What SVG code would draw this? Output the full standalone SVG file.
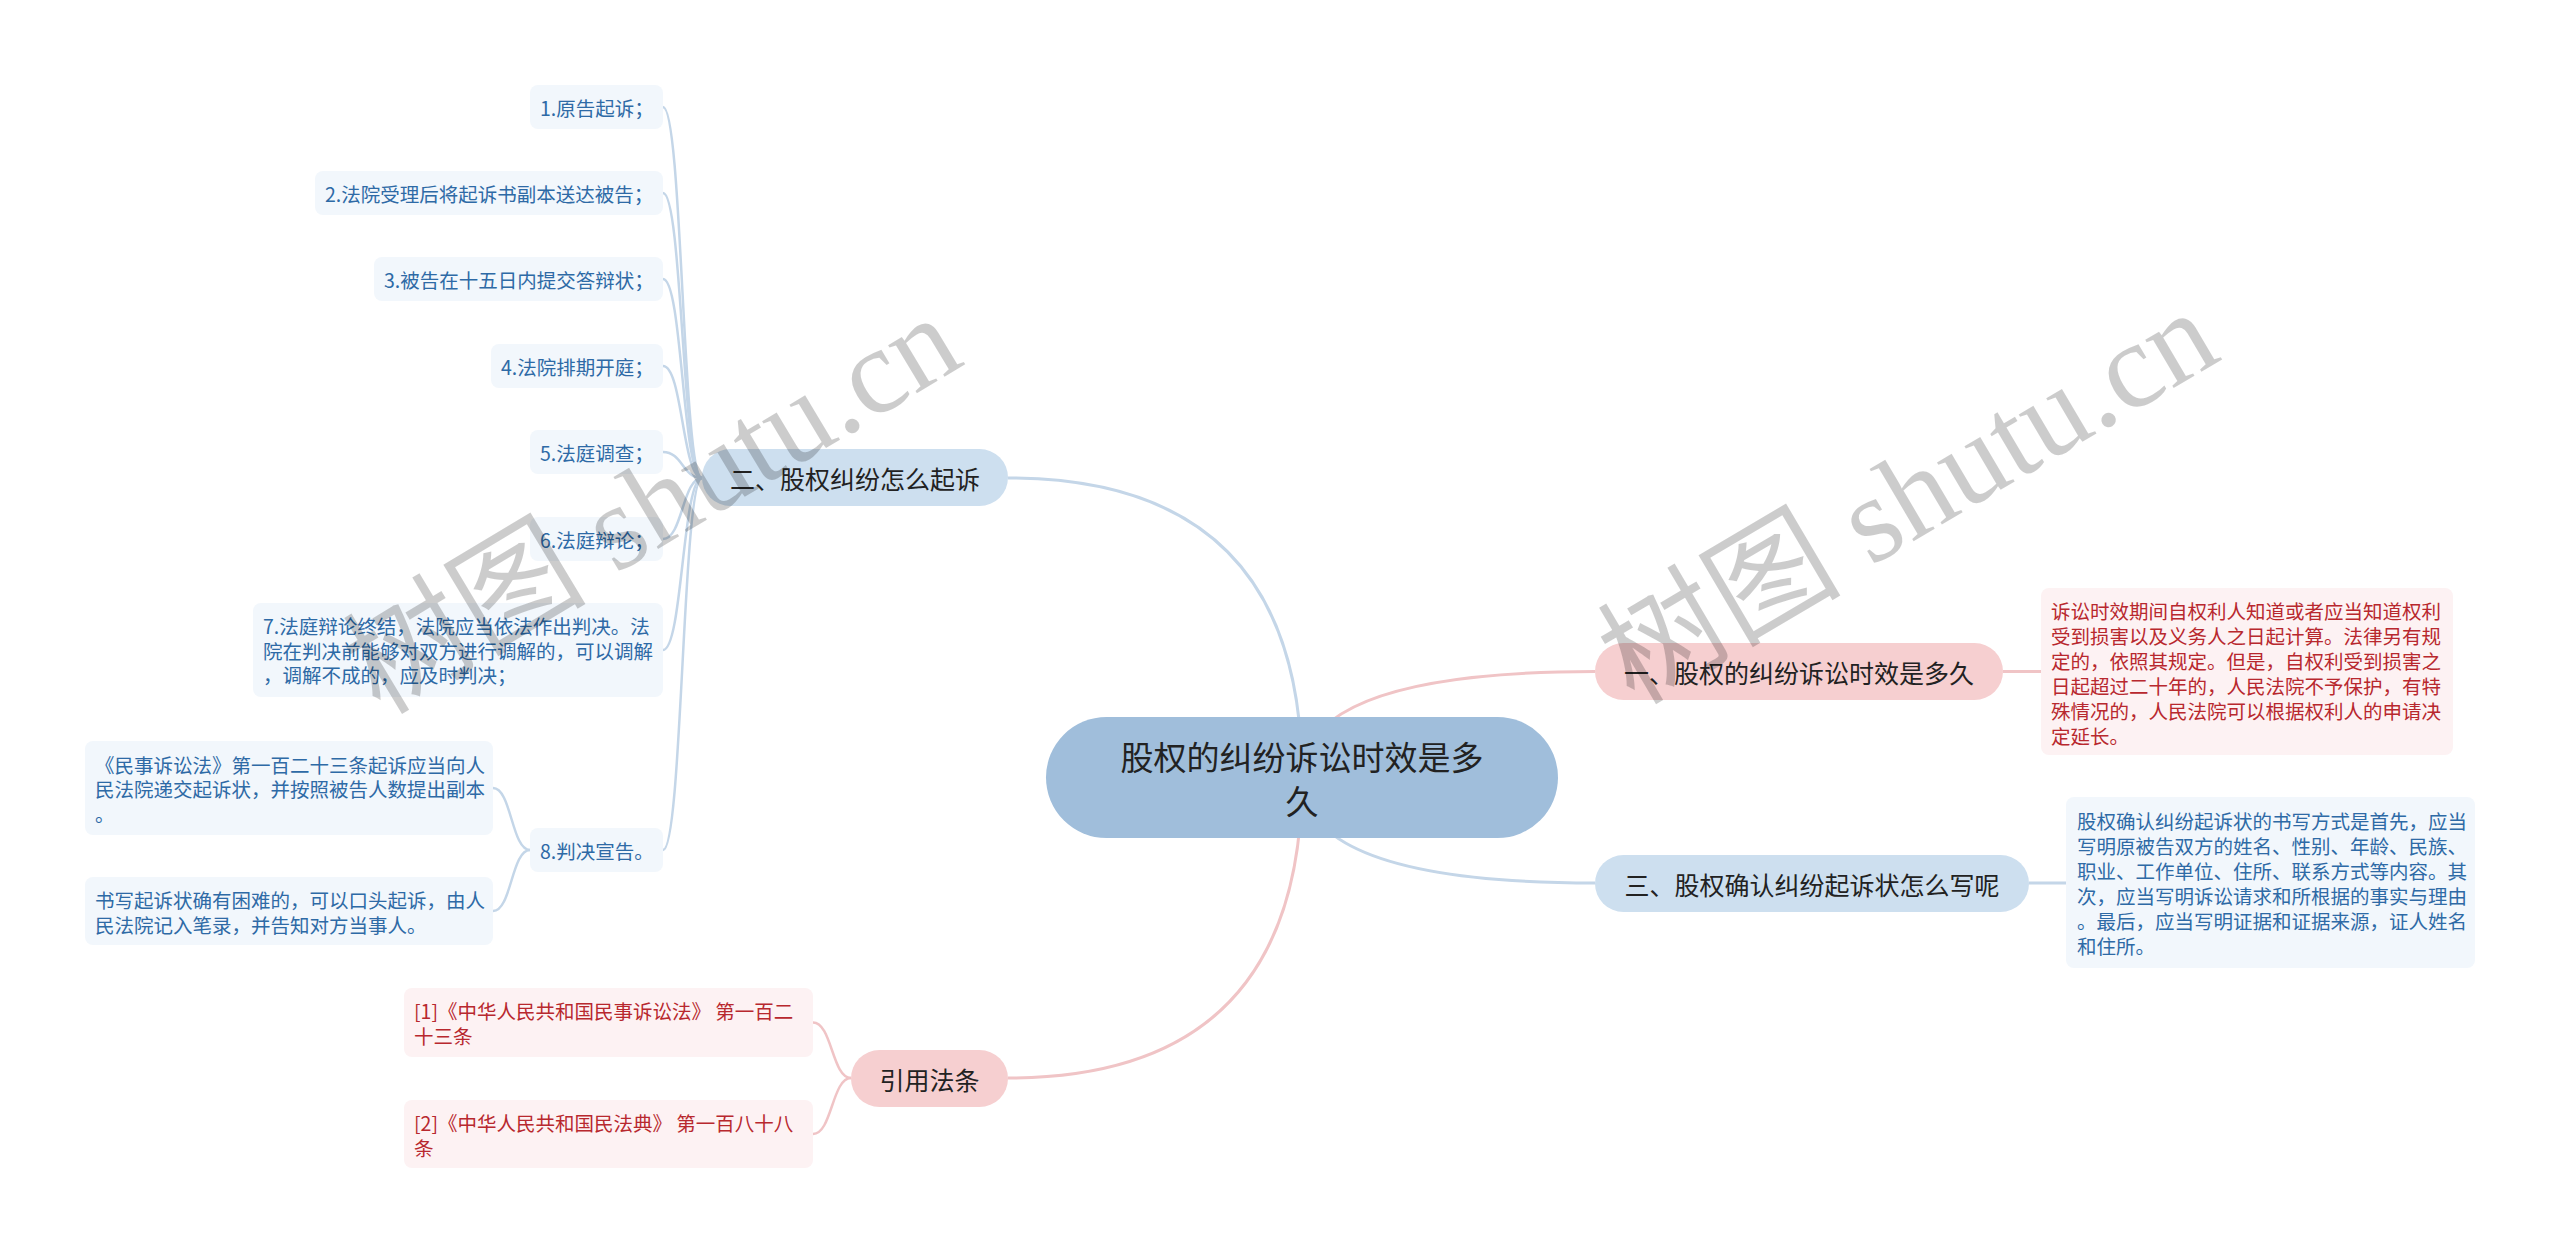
<svg xmlns="http://www.w3.org/2000/svg" width="2560" height="1253" viewBox="0 0 2560 1253">
<style>
text{font-family:"Noto Sans CJK SC","Noto Sans",sans-serif;dominant-baseline:central}
.lb{fill:none;stroke:#c4d6e8;stroke-width:3}
.lp{fill:none;stroke:#f0c4c6;stroke-width:3}
.sb{fill:none;stroke:#c4d6e8;stroke-width:2.5}
.sp{fill:none;stroke:#f0c4c6;stroke-width:2.5}
.root rect{fill:#a0bedb}
.root text{font-size:33px;fill:#222;text-anchor:middle}
.bb rect{fill:#cddfef}
.bp rect{fill:#f6cfd0}
.br text{font-size:25px;fill:#222;text-anchor:middle}
.lfb rect{fill:#f2f7fc}
.lfb text{font-size:19.5px;fill:#2e6aa6}
.lfp rect{fill:#fdf2f3}
.lfp text{font-size:19.5px;fill:#b8282e}
.wm{font-family:"Liberation Serif","Noto Sans CJK SC",serif;font-size:122px;fill:#000;fill-opacity:0.2;dominant-baseline:alphabetic}
</style>
<rect width="2560" height="1253" fill="#fff"/>
<g id="connectors">
<path class="lb" d="M1302 777 Q1302 478 1008 478"/>
<path class="lp" d="M1302 777 Q1302 671.5 1595 671.5"/>
<path class="lb" d="M1302 777 Q1302 883 1595 883"/>
<path class="lp" d="M1302 777 Q1302 1078 1008 1078"/>
<path class="lp" d="M2003 671.5 L2041 671.5"/>
<path class="lb" d="M2029 883 L2066 883"/>
<path class="sb" d="M702 478 C682.5 478 682.5 107 663 107"/>
<path class="sb" d="M702 478 C682.5 478 682.5 193 663 193"/>
<path class="sb" d="M702 478 C682.5 478 682.5 279 663 279"/>
<path class="sb" d="M702 478 C682.5 478 682.5 366 663 366"/>
<path class="sb" d="M702 478 C682.5 478 682.5 452 663 452"/>
<path class="sb" d="M702 478 C682.5 478 682.5 539 663 539"/>
<path class="sb" d="M702 478 C682.5 478 682.5 650 663 650"/>
<path class="sb" d="M702 478 C682.5 478 682.5 850 663 850"/>
<path class="sb" d="M530 850 C511.5 850 511.5 788 493 788"/>
<path class="sb" d="M530 850 C511.5 850 511.5 911 493 911"/>
<path class="sp" d="M851 1078 C832 1078 832 1022.5 813 1022.5"/>
<path class="sp" d="M851 1078 C832 1078 832 1134 813 1134"/>
</g>
<g id="root" class="root">
<rect x="1046" y="717" width="512" height="121" rx="60.5"/>
<text x="1302" y="756">股权的纠纷诉讼时效是多</text>
<text x="1302" y="800">久</text>
</g>
<g id="b2" class="bb br">
<rect x="702" y="449" width="306" height="57" rx="28.5"/>
<text x="855" y="477.5">二、股权纠纷怎么起诉</text>
</g>
<g id="b1" class="bp br">
<rect x="1595" y="643" width="408" height="57" rx="28.5"/>
<text x="1799" y="671.5">一、股权的纠纷诉讼时效是多久</text>
</g>
<g id="b3" class="bb br">
<rect x="1595" y="855" width="434" height="57" rx="28.5"/>
<text x="1812" y="883.5">三、股权确认纠纷起诉状怎么写呢</text>
</g>
<g id="b4" class="bp br">
<rect x="851" y="1050" width="157" height="57" rx="28.5"/>
<text x="929.5" y="1078.5">引用法条</text>
</g>
<g id="n1-text" class="lfp">
<rect x="2041" y="588" width="412" height="167" rx="8"/>
<text x="2051" y="610">诉讼时效期间自权利人知道或者应当知道权利</text>
<text x="2051" y="635">受到损害以及义务人之日起计算。法律另有规</text>
<text x="2051" y="660">定的，依照其规定。但是，自权利受到损害之</text>
<text x="2051" y="685">日起超过二十年的，人民法院不予保护，有特</text>
<text x="2051" y="710">殊情况的，人民法院可以根据权利人的申请决</text>
<text x="2051" y="735">定延长。</text>
</g>
<g id="n3-text" class="lfb">
<rect x="2066" y="797" width="409" height="171" rx="8"/>
<text x="2077" y="820">股权确认纠纷起诉状的书写方式是首先，应当</text>
<text x="2077" y="845">写明原被告双方的姓名、性别、年龄、民族、</text>
<text x="2077" y="870">职业、工作单位、住所、联系方式等内容。其</text>
<text x="2077" y="895">次，应当写明诉讼请求和所根据的事实与理由</text>
<text x="2077" y="920">。最后，应当写明证据和证据来源，证人姓名</text>
<text x="2077" y="945">和住所。</text>
</g>
<g id="s1" class="lfb"><rect x="530" y="85" width="133" height="44" rx="8"/><text x="540" y="107">1.原告起诉；</text></g>
<g id="s2" class="lfb"><rect x="315" y="171" width="348" height="44" rx="8"/><text x="325" y="193">2.法院受理后将起诉书副本送达被告；</text></g>
<g id="s3" class="lfb"><rect x="374" y="257" width="289" height="44" rx="8"/><text x="384" y="279">3.被告在十五日内提交答辩状；</text></g>
<g id="s4" class="lfb"><rect x="491" y="344" width="172" height="44" rx="8"/><text x="501" y="366">4.法院排期开庭；</text></g>
<g id="s5" class="lfb"><rect x="530" y="430" width="133" height="44" rx="8"/><text x="540" y="452">5.法庭调查；</text></g>
<g id="s6" class="lfb"><rect x="530" y="517" width="133" height="44" rx="8"/><text x="540" y="539">6.法庭辩论；</text></g>
<g id="s7" class="lfb"><rect x="253" y="603" width="410" height="94" rx="8"/>
<text x="263" y="625.5">7.法庭辩论终结，法院应当依法作出判决。法</text>
<text x="263" y="650">院在判决前能够对双方进行调解的，可以调解</text>
<text x="263" y="674.5">，调解不成的，应及时判决；</text></g>
<g id="s8" class="lfb"><rect x="530" y="828" width="133" height="44" rx="8"/><text x="540" y="850">8.判决宣告。</text></g>
<g id="s8a" class="lfb"><rect x="85" y="741" width="408" height="94" rx="8"/>
<text x="95" y="764">《民事诉讼法》第一百二十三条起诉应当向人</text>
<text x="95" y="788.5">民法院递交起诉状，并按照被告人数提出副本</text>
<text x="95" y="813">。</text></g>
<g id="s8b" class="lfb"><rect x="85" y="877" width="408" height="68" rx="8"/>
<text x="95" y="899">书写起诉状确有困难的，可以口头起诉，由人</text>
<text x="95" y="924">民法院记入笔录，并告知对方当事人。</text></g>
<g id="r1" class="lfp"><rect x="404" y="988" width="409" height="69" rx="8"/>
<text x="414" y="1010.5">[1]《中华人民共和国民事诉讼法》 第一百二</text>
<text x="414" y="1035">十三条</text></g>
<g id="r2" class="lfp"><rect x="404" y="1100" width="409" height="68" rx="8"/>
<text x="414" y="1122">[2]《中华人民共和国民法典》 第一百八十八</text>
<text x="414" y="1147">条</text></g>
<g id="watermarks">
<text class="wm" transform="translate(380 716) rotate(-31)">树图 shutu.cn</text>
<text class="wm" transform="translate(1634 706) rotate(-30.5)">树图 shutu.cn</text>
</g>
</svg>
